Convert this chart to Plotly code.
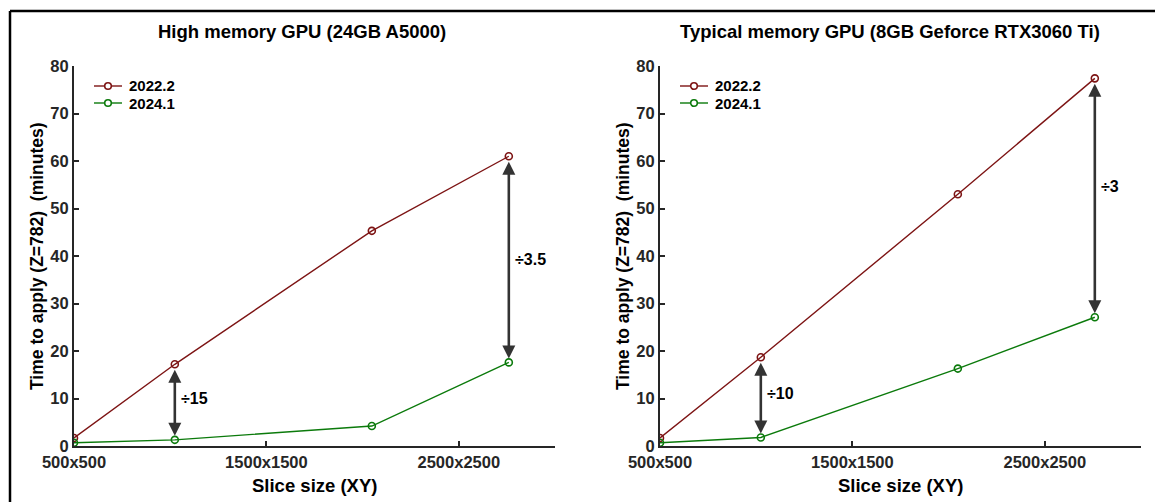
import plotly.graph_objects as go

# ---------------- data ----------------
slice_sizes = [500, 1024, 2048, 2760]
tick_vals = [500, 1500, 2500]
tick_text = ["500x500", "1500x1500", "2500x2500"]
y_ticks = [0, 10, 20, 30, 40, 50, 60, 70, 80]

high_2022 = [1.7, 17.2, 45.3, 61.0]
high_2024 = [0.7, 1.3, 4.2, 17.6]
typ_2022 = [1.7, 18.7, 53.0, 77.4]
typ_2024 = [0.7, 1.8, 16.3, 27.1]

series_names = ["2022.2", "2024.1"]
panel_titles = ["High memory GPU (24GB A5000)",
                "Typical memory GPU (8GB Geforce RTX3060 Ti)"]
ratio_labels_high = ["÷15", "÷3.5"]
ratio_labels_typ = ["÷10", "÷3"]
arrow_idx = [1, 3]

# ---------------- layout helpers ----------------
W, H = 1163, 502
OFF = 8  # page body margin offset
FONT = "Liberation Sans, Arial, sans-serif"
RED = "#7d1414"
GREEN = "#0b7a0b"
AX = "#262626"
series_colors = [RED, GREEN]


def px(x):
    return (x - OFF) / W


def py(y):
    return 1 - (y - OFF) / H


fig = go.Figure()

panels = [
    dict(xa="x", ya="y", x0=74, x1=555, d22=high_2022, d24=high_2024,
         labels=ratio_labels_high, shifts=[4, 0], title=panel_titles[0], tcx=302),
    dict(xa="x2", ya="y2", x0=660, x1=1141, d22=typ_2022, d24=typ_2024,
         labels=ratio_labels_typ, shifts=[4, 11], title=panel_titles[1], tcx=890),
]

annotations = []
shapes = []
for p in panels:
    for name, vals, col in zip(series_names, [p["d22"], p["d24"]], series_colors):
        fig.add_trace(go.Scatter(
            x=slice_sizes, y=vals, name=name, mode="lines+markers",
            line=dict(color=col, width=1.4),
            marker=dict(symbol="circle-open", size=7, color=col,
                        line=dict(width=1.6, color=col)),
            xaxis=p["xa"], yaxis=p["ya"], showlegend=False,
        ))
    # legend (drawn compactly like the reference)
    for k, (name, col) in enumerate(zip(series_names, series_colors)):
        ry = 86 + 17 * k
        lx = p["x0"] + 20
        shapes.append(dict(type="line", xref="paper", yref="paper",
                           x0=px(lx), x1=px(lx + 28), y0=py(ry), y1=py(ry),
                           line=dict(color=col, width=1.4)))
        shapes.append(dict(type="circle", xref="paper", yref="paper",
                           x0=px(lx + 14 - 3.3), x1=px(lx + 14 + 3.3),
                           y0=py(ry + 3.3), y1=py(ry - 3.3),
                           fillcolor="white", line=dict(color=col, width=1.6)))
        annotations.append(dict(
            x=px(lx + 33), y=py(ry), xref="paper", yref="paper",
            text="<b>%s</b>" % name, showarrow=False,
            xanchor="left", yanchor="middle",
            font=dict(family=FONT, size=15, color="black"),
        ))
    # double arrows between versions
    for i, lab, sh in zip(arrow_idx, p["labels"], p["shifts"]):
        top = p["d22"][i]
        bot = p["d24"][i]
        annotations.append(dict(
            x=slice_sizes[i], y=bot, ax=slice_sizes[i], ay=top,
            xref=p["xa"], yref=p["ya"], axref=p["xa"], ayref=p["ya"],
            text="", showarrow=True, arrowside="end+start",
            arrowhead=2, startarrowhead=2, arrowsize=1, startarrowsize=1,
            arrowwidth=2.6, arrowcolor="#333333",
            standoff=4, startstandoff=4,
        ))
        annotations.append(dict(
            x=slice_sizes[i], y=(top + bot) / 2, xref=p["xa"], yref=p["ya"],
            text="<b>%s</b>" % lab, showarrow=False, xanchor="left",
            yanchor="middle", xshift=4, yshift=sh,
            font=dict(family=FONT, size=16, color="black"),
        ))
    # panel title
    annotations.append(dict(
        x=px(p["tcx"]), y=py(32), xref="paper", yref="paper",
        text="<b>%s</b>" % p["title"], showarrow=False,
        xanchor="center", yanchor="middle",
        font=dict(family=FONT, size=18.5, color="black"),
    ))
    # axis titles
    annotations.append(dict(
        x=px((p["x0"] + p["x1"]) / 2), y=py(485), xref="paper", yref="paper",
        text="<b>Slice size (XY)</b>", showarrow=False,
        xanchor="center", yanchor="middle",
        font=dict(family=FONT, size=18.5, color="black"),
    ))
    annotations.append(dict(
        x=px(p["x0"] - 37), y=py(256), xref="paper", yref="paper",
        text="<b>Time to apply (Z=782)  (minutes)</b>", showarrow=False,
        xanchor="center", yanchor="middle",
        textangle=-90, font=dict(family=FONT, size=17.5, color="black"),
    ))

axis_common = dict(
    showgrid=False, zeroline=False, showline=True, linecolor=AX, linewidth=2,
    ticks="inside", ticklen=5, tickwidth=1.5, tickcolor=AX, automargin=False,
    tickfont=dict(family=FONT, size=16.5, color=AX),
)
xt = ["<b>%s</b>" % t for t in tick_text]
yt = ["<b>%d</b>" % v for v in y_ticks]

shapes += [
    dict(type="line", xref="paper", yref="paper", x0=px(10), x1=px(10),
         y0=py(11), y1=0, line=dict(color="black", width=2.5)),
    dict(type="line", xref="paper", yref="paper", x0=px(10), x1=1,
         y0=py(11), y1=py(11), line=dict(color="black", width=2.5)),
    dict(type="line", xref="paper", yref="paper", x0=px(1160.5), x1=px(1160.5),
         y0=py(11), y1=0, line=dict(color="#d0d0d0", width=1)),
]

fig.update_layout(
    width=W, height=H, autosize=False,
    margin=dict(l=0, r=0, t=0, b=0, pad=0, autoexpand=False),
    paper_bgcolor="white", plot_bgcolor="white",
    xaxis=dict(domain=[px(74), px(555)], range=[500, 3000], anchor="y",
               tickvals=tick_vals, ticktext=xt, **axis_common),
    yaxis=dict(domain=[py(446), py(66)], range=[0, 80], anchor="x",
               tickvals=y_ticks, ticktext=yt, **axis_common),
    xaxis2=dict(domain=[px(660), px(1141)], range=[500, 3000], anchor="y2",
                tickvals=tick_vals, ticktext=xt, **axis_common),
    yaxis2=dict(domain=[py(446), py(66)], range=[0, 80], anchor="x2",
                tickvals=y_ticks, ticktext=yt, **axis_common),
    showlegend=False,
    annotations=annotations,
    shapes=shapes,
)

fig.write_html("out.html")
